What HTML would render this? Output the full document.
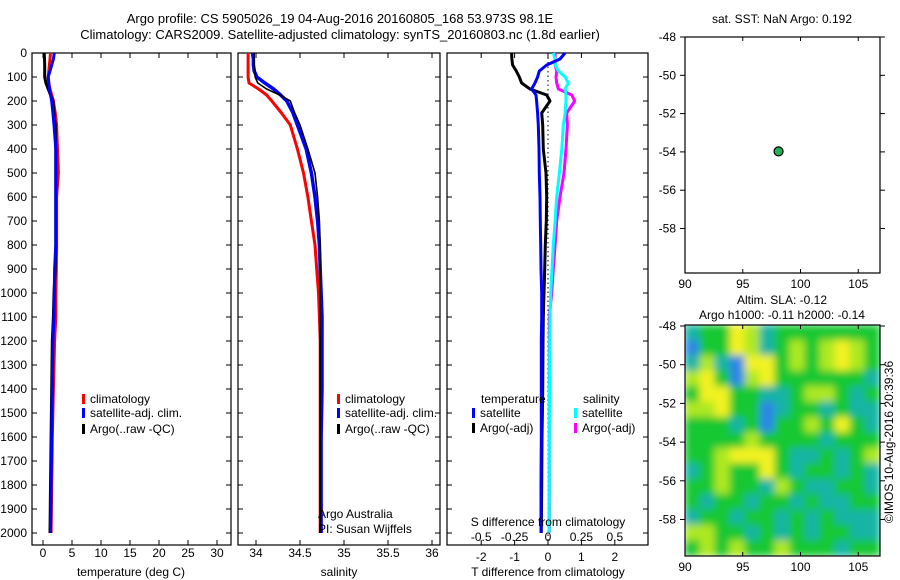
<!DOCTYPE html>
<html><head><meta charset="utf-8"><style>
html,body{margin:0;padding:0;background:#fff;}
svg{display:block;font-family:"Liberation Sans",Arial,sans-serif;}
text{font-size:12px;fill:#000;}
</style></head><body>
<svg id="fig" width="900" height="580" viewBox="0 0 900 580">
<defs>
<clipPath id="hmclip"><rect x="685" y="325" width="195" height="231"/></clipPath>
<filter id="blur" filterUnits="userSpaceOnUse" x="660" y="300" width="245" height="280"><feGaussianBlur stdDeviation="4"/></filter>
</defs>
<text x="340" y="23" text-anchor="middle" style="font-size:13px">Argo profile: CS 5905026_19 04-Aug-2016 20160805_168 53.973S 98.1E</text>
<text x="340" y="39" text-anchor="middle" style="font-size:13px">Climatology: CARS2009. Satellite-adjusted climatology: synTS_20160803.nc (1.8d earlier)</text>
</svg>
<script>
// ---- data ----
const depths = [0,25,50,75,100,125,150,175,200,250,300,400,500,600,700,800,900,1000,1100,1200,1400,1600,1800,2000];
const tempClim = [1.3,1.2,1.1,1.0,0.9,1.0,1.2,1.5,1.8,2.1,2.35,2.5,2.65,2.35,2.35,2.35,2.3,2.2,2.2,2.0,1.8,1.6,1.5,1.4];
const tempSat  = [1.95,1.8,1.5,1.2,0.9,1.0,1.1,1.3,1.5,1.7,1.9,2.2,2.2,2.2,2.2,2.2,2.0,1.95,1.9,1.7,1.6,1.5,1.4,1.3];
const tempArgo = [0.2,0.25,0.3,0.3,0.3,0.5,0.9,1.3,1.7,1.9,2.1,2.2,2.2,2.2,2.2,2.2,2.1,1.9,1.8,1.6,1.5,1.4,1.3,1.2];
const salClim = [33.91,33.91,33.91,33.91,33.91,33.92,34.03,34.12,34.18,34.29,34.39,34.47,34.54,34.59,34.63,34.67,34.69,34.71,34.72,34.73,34.73,34.73,34.73,34.73];
const salSat  = [33.96,33.97,33.97,33.98,34.01,34.10,34.20,34.28,34.35,34.42,34.47,34.57,34.63,34.67,34.70,34.72,34.73,34.74,34.75,34.75,34.75,34.74,34.74,34.74];
const salArgo = [33.98,33.98,33.98,33.99,33.99,34.02,34.12,34.27,34.39,34.44,34.50,34.59,34.67,34.70,34.72,34.73,34.73,34.73,34.73,34.73,34.73,34.73,34.73,34.73];
const dTsat  = [0.51,0.36,-0.04,-0.26,-0.31,-0.39,-0.49,-0.36,-0.34,-0.31,-0.29,-0.27,-0.26,-0.24,-0.23,-0.22,-0.21,-0.19,-0.19,-0.2,-0.2,-0.2,-0.21,-0.21];
const dTargo = [-1.09,-1.08,-1.06,-0.95,-0.86,-0.79,-0.54,-0.04,0.06,-0.19,-0.16,-0.14,-0.06,-0.04,-0.05,-0.08,-0.1,-0.12,-0.14,-0.15,-0.16,-0.18,-0.19,-0.2];
const dSsat  = [0.04,0.053,0.053,0.078,0.128,0.153,0.128,0.135,0.135,0.128,0.115,0.103,0.085,0.065,0.053,0.04,0.03,0.02,0.015,0.013,0.011,0.01,0.009,0.008];
const dSargo = [0.053,0.053,0.053,0.065,0.06,0.065,0.078,0.178,0.2,0.14,0.145,0.135,0.12,0.09,0.065,0.053,0.04,0.028,0.01,0.01,0.01,0.01,0.01,0.01];
const depthTicks = [0,100,200,300,400,500,600,700,800,900,1000,1100,1200,1300,1400,1500,1600,1700,1800,1900,2000];
const tempTicks = [0,5,10,15,20,25,30];
const salTicks = [34,34.5,35,35.5,36];
const dTTicks = [-2,-1,0,1,2];
const dSTicks = [-0.5,-0.25,0,0.25,0.5];
const dSTickLabels = ["-0.5","-0.25","0","0.25","0.5"];
const argoLon = [98.1];
const argoLat = [-53.973];
const lonTicks = [90,95,100,105];
const latTicks = [-48,-50,-52,-54,-56,-58];
const slaGrid = [
[1,2,2,4,3,1,2,2,2,2,2,2,2],
[0,2,2,4,3,1,2,3,2,3,4,3,2],
[1,3,1,0,4,4,2,3,2,3,4,3,2],
[3,4,2,0,3,4,2,2,2,2,2,2,1],
[2,4,4,2,2,1,1,2,3,3,2,1,2],
[3,3,4,2,2,0,1,2,2,1,2,1,1],
[2,2,2,1,2,0,2,2,3,2,4,2,1],
[2,2,2,2,3,2,2,2,2,1,2,2,2],
[2,2,3,4,4,4,2,1,1,2,1,2,3],
[1,2,3,2,2,4,2,1,2,2,1,2,1],
[2,2,3,2,2,1,3,2,1,1,2,2,1],
[2,1,2,2,1,2,2,1,2,1,1,2,2],
[1,2,2,1,2,2,1,2,1,2,1,1,1],
[3,3,2,2,1,2,1,2,1,2,2,1,1],
[2,3,2,3,2,2,3,2,2,2,1,2,2]];
const slaColors = ["#2a86e6","#12b4a4","#12c832","#aee822","#f2f222"];

// ---- helpers ----
const svg = document.getElementById('fig');
const NS = 'http://www.w3.org/2000/svg';
function mk(tag, attrs, parent){const e=document.createElementNS(NS,tag);for(const k in attrs)e.setAttribute(k,attrs[k]);(parent||svg).appendChild(e);return e;}
function txt(x,y,s,anchor,parent){const t=mk('text',{x:x,y:y,'text-anchor':anchor||'middle'},parent);t.textContent=s;return t;}

const PT=53, PB=545;
const yD = d => PT + d*0.24;
const xT = t => 43 + t*5.8;
const xS = s => 256 + (s-34)*88;
const xdT = d => 548 + d*33.4;
const xdS = d => 548 + d*133.6;

function panel(x0,x1,name){
  const r=mk('rect',{x:x0,y:PT,width:x1-x0,height:PB-PT,fill:'#fff',stroke:'#000','stroke-width':1.2});
  
  
  depthTicks.forEach(d=>{
    mk('line',{x1:x0,x2:x0+5,y1:yD(d),y2:yD(d),stroke:'#000'});
    mk('line',{x1:x1-5,x2:x1,y1:yD(d),y2:yD(d),stroke:'#000'});
  });
}
function xticks(x0,ticks,fx){
  ticks.forEach(v=>{
    mk('line',{x1:fx(v),x2:fx(v),y1:PT,y2:PT+5,stroke:'#000'});
    mk('line',{x1:fx(v),x2:fx(v),y1:PB-5,y2:PB,stroke:'#000'});
  });
}
function line(xs,fx,color,w,name){
  const pts=xs.map((v,i)=>fx(v).toFixed(1)+','+yD(depths[i]).toFixed(1)).join(' ');
  const p=mk('polyline',{points:pts,fill:'none',stroke:color,'stroke-width':w,'stroke-linejoin':'round'});
  
  
}
function legendEntry(x,y,color,label,name){
  const g=mk('g',{});
  
  
  mk('rect',{x:x,y:y-9,width:3,height:10,fill:color},g);
  txt(x+8,y,label,'start',g);
}

// panel 1 temperature
panel(32,231,'temperature-panel');
xticks(32,tempTicks,xT);
line(tempClim,xT,'#f00',3,'temp-climatology-line');
line(tempArgo,xT,'#000',3,'temp-argo-line');
line(tempSat,xT,'#00f',3,'temp-satellite-line');
depthTicks.forEach(d=>{const t=txt(27,yD(d)+4,String(d),'end');});
tempTicks.forEach(v=>{const t=txt(xT(v),557,String(v));});
{const t=txt(131,576,'temperature (deg C)');}
legendEntry(82,403,'#f00','climatology','legend-climatology');
legendEntry(82,417,'#00f','satellite-adj. clim.','legend-satellite');
legendEntry(82,433,'#000','Argo(..raw -QC)','legend-argo');

// panel 2 salinity
panel(238,440,'salinity-panel');
xticks(238,salTicks,xS);
line(salClim,xS,'#f00',3,'sal-climatology-line');
line(salSat,xS,'#00f',3.5,'sal-satellite-line');
line(salArgo,xS,'#000',1.6,'sal-argo-line');
salTicks.forEach(v=>{const t=txt(xS(v),557,String(v));});
{const t=txt(339,576,'salinity');}
legendEntry(337,403,'#f00','climatology','legend-climatology');
legendEntry(337,417,'#00f','satellite-adj. clim.','legend-satellite');
legendEntry(337,433,'#000','Argo(..raw -QC)','legend-argo');
{const t=txt(318,518,'Argo Australia','start');}
{const t=txt(318,533,'PI: Susan Wijffels','start');}

// panel 3 differences
panel(447,648,'difference-panel');
xticks(447,dTTicks,xdT);
mk('line',{x1:548,x2:548,y1:PT,y2:PB,stroke:'#000','stroke-dasharray':'1.5,3'});
line(dSargo,xdS,'#f0f',3,'sal-argo-diff-line');
line(dSsat,xdS,'#0ff',3,'sal-satellite-diff-line');
line(dTargo,xdT,'#000',3,'temp-argo-diff-line');
line(dTsat,xdT,'#00f',3,'temp-satellite-diff-line');
dTTicks.forEach(v=>{const t=txt(xdT(v),561,String(v));});
dSTicks.forEach((v,i)=>{const t=txt(xdS(v),541,dSTickLabels[i]);});
{const t=txt(548,526,'S difference from climatology');}
{const t=txt(548,576,'T difference from climatology');}
{const t=txt(481,403,'temperature','start');}
{const t=txt(583,403,'salinity','start');}
legendEntry(472,417,'#00f','satellite','legend-temp-satellite');
legendEntry(472,432,'#000','Argo(-adj)','legend-temp-argo');
legendEntry(574,417,'#0ff','satellite','legend-sal-satellite');
legendEntry(574,432,'#f0f','Argo(-adj)','legend-sal-argo');

// maps
const MX0=685, MX1=880;
const xLon = l => MX0 + (l-90)*11.55;
function mapAxes(y0,y1,yLat,name){
  const r=mk('rect',{x:MX0,y:y0,width:MX1-MX0,height:y1-y0,fill:'none',stroke:'#000','stroke-width':1.2});
  
  
  lonTicks.forEach(l=>{
    mk('line',{x1:xLon(l),x2:xLon(l),y1:y0,y2:y0+4,stroke:'#000'});
    mk('line',{x1:xLon(l),x2:xLon(l),y1:y1-4,y2:y1,stroke:'#000'});
    const t=txt(xLon(l),y1+15,String(l));
    
    
  });
  latTicks.forEach(a=>{
    mk('line',{x1:MX0-5,x2:MX0,y1:yLat(a),y2:yLat(a),stroke:'#000'});
    mk('line',{x1:MX1,x2:MX1+5,y1:yLat(a),y2:yLat(a),stroke:'#000'});
    const t=txt(MX0-9,yLat(a)+4,String(a),'end');
    
    
  });
}
const yLat1 = a => 37 + (-48-a)*19.15;
mapAxes(37,273,yLat1,'sst-map');
argoLon.forEach((l,i)=>{
  const c=mk('circle',{cx:xLon(l),cy:yLat1(argoLat[i]),r:4.5,fill:'#1fb060',stroke:'#000','stroke-width':1.2});
  
  
});
{const t=txt(782,23,'sat. SST: NaN Argo: 0.192');}

// SLA heatmap
const yLat2 = a => 326 + (-48-a)*19.35;
const hm=mk('g',{'clip-path':'url(#hmclip)'});


const hg=mk('g',{filter:'url(#blur)'},hm);
const nr=slaGrid.length, nc=slaGrid[0].length;
const cw=(MX1-MX0)/nc, ch=(556-325)/nr;
slaGrid.forEach((row,i)=>row.forEach((v,j)=>{
  const c=mk('rect',{x:MX0+j*cw-0.5,y:325+i*ch-0.5,width:cw+1,height:ch+1,fill:slaColors[v]},hg);
  
  
}));
mapAxes(325,556,yLat2,'sla-map');
{const t=txt(782,304,'Altim. SLA: -0.12');}
{const t=txt(782,319,'Argo h1000: -0.11 h2000: -0.14');}
{const t=mk('text',{x:0,y:0,'text-anchor':'middle',transform:'translate(893,442) rotate(-90)'});t.textContent='©IMOS 10-Aug-2016 20:39:36';}
</script>
</body></html>
